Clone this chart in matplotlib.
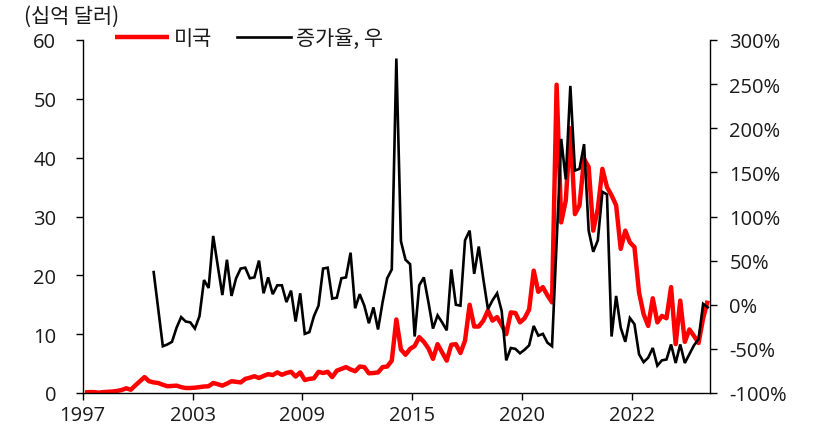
import numpy as np
import matplotlib
matplotlib.use("Agg")
import matplotlib.pyplot as plt
from matplotlib.ticker import FuncFormatter, FixedLocator

# US values (billion USD), one value per period
us_values = [
    0.1, 0.15, 0.15, 0.05, 0.15, 0.2, 0.25, 0.35, 0.5, 0.8,
    0.55, 1.3, 2.0, 2.7, 2.0, 1.8, 1.7, 1.4, 1.15, 1.2,
    1.25, 1.0, 0.85, 0.85, 0.9, 1.0, 1.1, 1.15, 1.7, 1.5,
    1.25, 1.6, 2.0, 1.9, 1.8, 2.4, 2.6, 2.85, 2.55, 2.9,
    3.2, 3.05, 3.5, 3.1, 3.4, 3.6, 2.8, 3.5, 2.2, 2.4,
    2.5, 3.6, 3.4, 3.6, 2.7, 3.8, 4.1, 4.4, 4.0, 3.7,
    4.5, 4.4, 3.35, 3.4, 3.5, 4.4, 4.5, 5.5, 12.5, 7.4,
    6.5, 7.5, 8.0, 9.5, 8.7, 7.6, 5.8, 8.3, 6.9, 5.5,
    8.2, 8.3, 6.8, 8.9, 15.0, 11.3, 11.3, 12.3, 14.0, 12.3,
    12.9, 11.6, 10.0, 13.7, 13.6, 12.0, 12.7, 14.2, 20.8, 17.2,
    18.0, 16.6, 15.4, 52.4, 29.0, 32.7, 45.0, 30.4, 31.9, 39.8,
    38.4, 27.6, 31.3, 38.1, 35.0, 33.6, 31.9, 24.5, 27.6, 25.6,
    24.8, 17.1, 13.4, 11.4, 16.1, 12.0, 13.1, 12.7, 18.0, 8.3,
    15.7, 8.7, 10.8, 9.7, 8.5, 12.7, 15.7,
]

# Growth rate (%), right axis; no value for the first periods
growth_rate = [np.nan] * 15 + [
    37, -5, -47, -45, -42, -26, -14, -19, -20, -27,
    -13, 28, 19, 78, 44, 11, 51, 10, 30, 41,
    42, 30, 31, 50, 13, 31, 12, 22, 22, 3,
    16, -19, 13, -33, -31, -13, -1, 41, 42, 7,
    8, 30, 31, 59, -4, 12, -1, -21, -3, -28,
    3, 30, 40, 279, 72, 51, 46, -36, 22, 31,
    3, -27, -12, -20, -29, 40, 0, -1, 73, 84,
    35, 66, 29, -5, 5, 13, -7, -63, -49, -50,
    -55, -51, -46, -24, -35, -33, -43, -47, 70, 188,
    142, 248, 152, 154, 182, 84, 60, 73, 128, 125,
    -36, 10, -26, -42, -15, -22, -56, -65, -60, -49,
    -69, -63, -62, -45, -66, -45, -66, -56, -46, -39,
    1, -3,
]

tick_labels = ["1997", "2003", "2009", "2015", "2020", "2022"]
tick_every = 24

n = len(us_values)
x = np.arange(n) + 0.5

num_font = "Open Sans"
kr_font = ["Noto Sans CJK KR", "DejaVu Sans"]
plt.rcParams["font.family"] = [num_font, "Noto Sans CJK KR", "DejaVu Sans"]

fig = plt.figure(figsize=(8.14, 4.35), dpi=100)
ax = fig.add_axes([82.7 / 814, 1 - 394 / 435, (710 - 82.7) / 814, (394 - 41) / 435])
ax2 = ax.twinx()

l1, = ax.plot(x, us_values, color="#ff0000", lw=3.2, solid_joinstyle="round",
              solid_capstyle="butt", label="미국", zorder=2)
l2, = ax2.plot(x, growth_rate, color="black", lw=1.9, solid_joinstyle="miter",
               label="증가율, 우", zorder=3)

ax.set_xlim(0, n)
ax.set_ylim(0, 60)
ax.set_yticks(np.arange(0, 61, 10))
ax2.set_ylim(-100, 300)
ax2.set_yticks(np.arange(-100, 301, 50))
ax2.yaxis.set_major_formatter(FuncFormatter(lambda v, p: f"{v:.0f}%"))

ticks = [i * tick_every for i in range(len(tick_labels))]
ax.xaxis.set_major_locator(FixedLocator(ticks))
ax.set_xticklabels(tick_labels)

for a in (ax, ax2):
    a.spines["top"].set_visible(False)
    for s in a.spines.values():
        s.set_linewidth(1.0)
        s.set_color("black")
ax.spines["right"].set_visible(False)
ax2.spines["left"].set_visible(False)
ax2.spines["bottom"].set_visible(False)

lab_size = 14.5
ax.tick_params(axis="y", direction="out", length=5, width=1, pad=14,
               labelsize=lab_size, colors="black", labelcolor="#1a1a1a")
ax.tick_params(axis="x", direction="out", length=5, width=1, pad=4,
               labelsize=lab_size, colors="black", labelcolor="#1a1a1a")
ax2.tick_params(axis="y", direction="out", length=5, width=1, pad=9,
                labelsize=lab_size, colors="black", labelcolor="#1a1a1a")

# unit label and legend above the plot
fig.text(24 / 814, 1 - 17 / 435, "(십억 달러)", fontsize=15, family=kr_font,
         color="#1a1a1a", ha="left", va="center")
leg = fig.legend(handles=[l1, l2], loc="center",
                 bbox_to_anchor=(249 / 814, 1 - 39 / 435), ncol=2,
                 frameon=False, handlelength=2.6, handletextpad=0.25,
                 columnspacing=1.2, prop={"family": kr_font, "size": 15})
for t in leg.get_texts():
    t.set_color("#1a1a1a")

fig.savefig("out.png", dpi=100)
